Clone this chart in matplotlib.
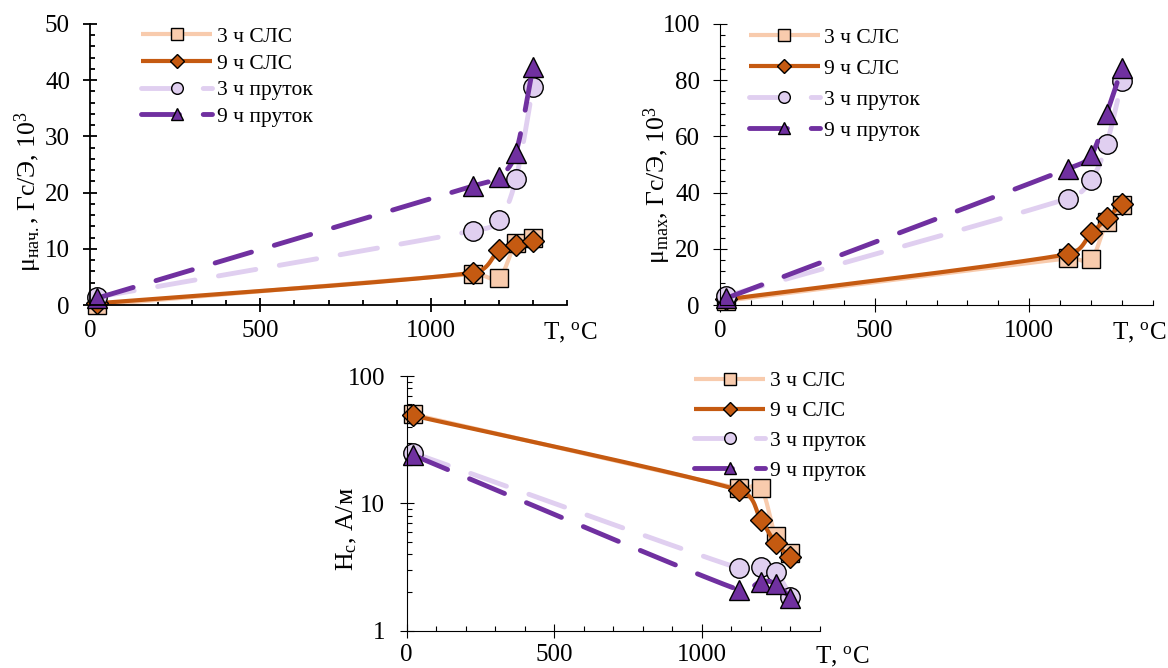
import numpy as np
import matplotlib
matplotlib.use('Agg')
import matplotlib.pyplot as plt
from matplotlib.ticker import MultipleLocator, FixedLocator, LogLocator, NullFormatter, FuncFormatter

plt.rcParams['font.family'] = ['Liberation Serif', 'DejaVu Serif']
plt.rcParams['mathtext.fontset'] = 'custom'
plt.rcParams['mathtext.rm'] = 'Liberation Serif'
plt.rcParams['mathtext.it'] = 'Liberation Serif:italic'

# температура отжига, °C
T = [20, 1125, 1200, 1250, 1300]
labels = ['3 ч СЛС', '9 ч СЛС', '3 ч пруток', '9 ч пруток']

# начальная проницаемость, 10^3 Гс/Э
mu_init_3sls = [0.0, 5.5, 4.8, 11.0, 11.9]
mu_init_9sls = [0.3, 5.75, 9.7, 10.6, 11.3]
mu_init_3rod = [1.4, 13.2, 15.1, 22.4, 38.8]
mu_init_9rod = [1.2, 21.2, 22.8, 27.1, 42.3]

# максимальная проницаемость, 10^3 Гс/Э
mu_max_3sls = [1.5, 16.6, 16.3, 29.6, 35.6]
mu_max_9sls = [2.0, 18.1, 25.5, 30.8, 35.9]
mu_max_3rod = [3.2, 37.9, 44.5, 57.3, 79.8]
mu_max_9rod = [2.4, 48.5, 53.4, 68.0, 84.5]

# коэрцитивная сила, А/м
hc_3sls = [50.0, 13.1, 13.1, 5.5, 4.05]
hc_9sls = [49.0, 12.7, 7.4, 4.86, 3.81]
hc_3rod = [25.0, 3.09, 3.18, 2.90, 1.85]
hc_9rod = [24.0, 2.09, 2.43, 2.33, 1.80]

W, H = 1168, 668
fig = plt.figure(figsize=(W / 100, H / 100), dpi=100)


def ax_px(x0, x1, ytop, ybot):
    return fig.add_axes([x0 / W, 1 - ybot / H, (x1 - x0) / W, (ybot - ytop) / H])


dash = (7.8, 4.9)
styles = [
    dict(color='#F8CBAD', marker='s', mfc='#F8CBAD', ms=13.5, lw=3.0, ls='-'),
    dict(color='#C55A11', marker='D', mfc='#C55A11', ms=11.5, lw=3.0, ls='-'),
    dict(color='#E0CFF0', marker='o', mfc='#E0CFF0', ms=14, lw=3.5, dashes=dash),
    dict(color='#7030A0', marker='^', mfc='#7030A0', ms=14.5, lw=3.5, dashes=dash),
]


def smooth(ax, x, y, n=40):
    # сглаживание как в Excel (кривые Безье в экранных координатах)
    pts = ax.transData.transform(np.column_stack([x, y]))
    out = [pts[0]]
    for i in range(len(pts) - 1):
        p0 = pts[max(i - 1, 0)]
        p1 = pts[i]
        p2 = pts[i + 1]
        p3 = pts[min(i + 2, len(pts) - 1)]
        d12 = np.hypot(*(p2 - p1))
        d02 = np.hypot(*(p2 - p0))
        d13 = np.hypot(*(p3 - p1))
        f0 = 1 / 6 if d02 / 6 < d12 / 2 else d12 / (2 * d02)
        f3 = 1 / 6 if d13 / 6 < d12 / 2 else d12 / (2 * d13)
        c1 = p1 + f0 * (p2 - p0)
        c2 = p2 - f3 * (p3 - p1)
        t = np.linspace(0, 1, n + 1)[1:, None]
        seg = (1 - t) ** 3 * p1 + 3 * (1 - t) ** 2 * t * c1 + 3 * (1 - t) * t ** 2 * c2 + t ** 3 * p2
        out.extend(seg)
    out = ax.transData.inverted().transform(np.array(out))
    return out[:, 0], out[:, 1], [k * n for k in range(len(x))]


def setup(ax, ylim, spine_w, log=False, ymajor=None, yminor=None, xpad=6, ypad=9.6):
    ax.set_xlim(0, 1400)
    ax.set_ylim(*ylim)
    if log:
        ax.set_yscale('log')
        ax.yaxis.set_major_locator(FixedLocator([1, 10, 100]))
        ax.yaxis.set_minor_locator(LogLocator(subs=np.arange(2, 10)))
        ax.yaxis.set_major_formatter(FuncFormatter(lambda v, p: '%g' % v))
        ax.yaxis.set_minor_formatter(NullFormatter())
    else:
        ax.yaxis.set_major_locator(MultipleLocator(ymajor))
        ax.yaxis.set_minor_locator(MultipleLocator(yminor))
    ax.xaxis.set_major_locator(FixedLocator([0, 500, 1000]))
    ax.xaxis.set_minor_locator(MultipleLocator(100))
    for s in ['top', 'right']:
        ax.spines[s].set_visible(False)
    for s in ['left', 'bottom']:
        ax.spines[s].set_linewidth(spine_w)
    ax.tick_params(which='major', direction='inout', length=9.6, width=spine_w, labelsize=18)
    ax.tick_params(which='minor', direction='in', length=3.5, width=spine_w)
    ax.tick_params(axis='x', which='major', pad=xpad)
    ax.tick_params(axis='y', which='major', pad=ypad)


def draw(ax, series):
    lines = []
    for ys, st in zip(series, styles):
        xs, yy, mk = smooth(ax, T, ys)
        ln, = ax.plot(xs, yy, markevery=mk, mec='k', mew=1.0, clip_on=False,
                      dash_capstyle='round', solid_capstyle='butt', **st)
        lines.append(ln)
    return lines


def legend(ax, lines, x0, top, spacing):
    ax.legend(lines, labels, loc='upper left', bbox_to_anchor=(x0 / W, 1 - top / H),
              bbox_transform=fig.transFigure, frameon=False, fontsize=15.5,
              borderpad=0, borderaxespad=0, handlelength=3.3, handletextpad=0.23,
              labelspacing=spacing, markerscale=0.6, numpoints=1)


# μнач
ax1 = ax_px(90, 567, 24, 305)
setup(ax1, (0, 50), 1.3, ymajor=10, yminor=2)
l1 = draw(ax1, [mu_init_3sls, mu_init_9sls, mu_init_3rod, mu_init_9rod])
legend(ax1, l1, 141, 26.7, 0.31)
fig.text(28 / W, 1 - 192 / H, 'μ$_{\\mathregular{нач.}}$, Гс/Э, 10$^{\\mathregular{3}}$',
         rotation=90, ha='center', va='center', fontsize=18.5)
fig.text(543 / W, 1 - 333 / H, 'T, $^{\\mathregular{o}}$C', ha='left', va='center', fontsize=18)

# μmax
ax2 = ax_px(720, 1153, 24, 305)
setup(ax2, (0, 100), 0.8, ymajor=20, yminor=4)
l2 = draw(ax2, [mu_max_3sls, mu_max_9sls, mu_max_3rod, mu_max_9rod])
legend(ax2, l2, 748.5, 27.6, 0.51)
fig.text(657 / W, 1 - 185 / H, 'μ$_{\\mathregular{max}}$, Гс/Э, 10$^{\\mathregular{3}}$',
         rotation=90, ha='center', va='center', fontsize=18.5)
fig.text(1112 / W, 1 - 333 / H, 'T, $^{\\mathregular{o}}$C', ha='left', va='center', fontsize=18)

# Hc
ax3 = ax_px(406.7, 820, 376, 630.7)
setup(ax3, (1, 100), 0.8, log=True, xpad=5, ypad=10.8)
l3 = draw(ax3, [hc_3sls, hc_9sls, hc_3rod, hc_9rod])
legend(ax3, l3, 694, 371.3, 0.45)
fig.text(347 / W, 1 - 529 / H, 'H$_{\\mathregular{c}}$, А/м',
         rotation=90, ha='center', va='center', fontsize=18.5)
fig.text(815 / W, 1 - 657 / H, 'T, $^{\\mathregular{o}}$C', ha='left', va='center', fontsize=18)

fig.savefig('out.png', dpi=100)
